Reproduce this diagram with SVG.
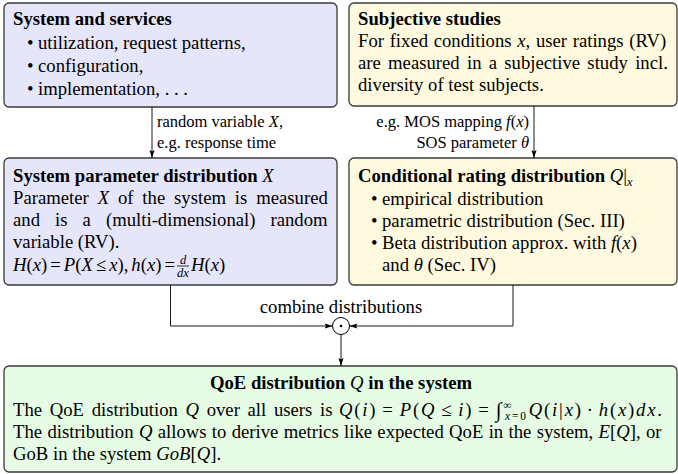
<svg xmlns="http://www.w3.org/2000/svg" width="678" height="474" viewBox="0 0 678 474">
  <style>
    .box { stroke: #3a3a3a; stroke-width: 1.3; }
    .blue { fill: #e6e6fa; }
    .yellow { fill: #fffadf; }
    .green { fill: #e6fce4; }
    .t { font-family: "Liberation Serif", "DejaVu Serif", serif; font-size: 18.7px; fill: #000; }
    .b { font-weight: bold; }
    .i { font-style: italic; }
    .lbl { font-size: 16.5px; }
    .sm { font-size: 11.5px; }
    .fr { font-size: 12.5px; }
    .int { font-size: 21px; }
    .conn { stroke: #000; stroke-width: 0.9; fill: none; }
  </style>
  <defs>
    <marker id="arrow" viewBox="0 0 8 6" refX="8" refY="3" markerWidth="8" markerHeight="6" markerUnits="userSpaceOnUse" orient="auto">
      <path d="M0,0.4 L8,3 L0,5.6 L1.6,3 z" fill="#000"/>
    </marker>
  </defs>

  <rect width="678" height="474" fill="#fff"/>

  <!-- system and services -->
  <g id="system-services">
    <rect class="box blue" x="4" y="3" width="333" height="104" rx="5"/>
    <text class="t b" x="13" y="25">System and services</text>
    <text class="t" x="27" y="49">•</text>
    <text class="t" x="38" y="49">utilization, request patterns,</text>
    <text class="t" x="27" y="72">•</text>
    <text class="t" x="38" y="72">configuration,</text>
    <text class="t" x="27" y="95">•</text>
    <text class="t" x="38" y="95">implementation, . . .</text>
  </g>

  <!-- subjective studies -->
  <g id="subjective-studies">
    <rect class="box yellow" x="349" y="3" width="328" height="103" rx="5"/>
    <text class="t b" x="358" y="25">Subjective studies</text>
    <text class="t" x="358" y="47" word-spacing="1">For fixed conditions <tspan class="i">x</tspan>, user ratings (RV)</text>
    <text class="t" x="358" y="69" word-spacing="2.6">are measured in a subjective study incl.</text>
    <text class="t" x="358" y="91">diversity of test subjects.</text>
  </g>

  <!-- system parameter distribution -->
  <g id="system-parameter">
    <rect class="box blue" x="4" y="158" width="333" height="127" rx="5"/>
    <text class="t" x="13" y="182"><tspan class="b">System parameter distribution </tspan><tspan class="i">X</tspan></text>
    <text class="t" x="13" y="204" word-spacing="4.2">Parameter <tspan class="i">X</tspan> of the system is measured</text>
    <text class="t" x="13" y="226" word-spacing="10.4">and is a (multi-dimensional) random</text>
    <text class="t" x="13" y="248">variable (RV).</text>
    <text class="t" x="13" y="271"><tspan class="i">H</tspan>(<tspan class="i">x</tspan>)<tspan dx="3">=</tspan><tspan class="i" dx="3">P</tspan>(<tspan class="i">X</tspan><tspan dx="3">≤</tspan><tspan class="i" dx="3">x</tspan>),<tspan class="i" dx="3">h</tspan>(<tspan class="i">x</tspan>)<tspan dx="3">=</tspan></text>
    <text class="t fr i" x="183" y="264" text-anchor="middle">d</text>
    <line x1="177" y1="266" x2="189" y2="266" stroke="#000" stroke-width="0.8"/>
    <text class="t fr i" x="183" y="277" text-anchor="middle">dx</text>
    <text class="t" x="191" y="271"><tspan class="i">H</tspan>(<tspan class="i">x</tspan>)</text>
  </g>

  <!-- conditional rating distribution -->
  <g id="conditional-rating">
    <rect class="box yellow" x="349" y="158" width="328" height="127" rx="5"/>
    <text class="t" x="358" y="182"><tspan class="b">Conditional rating distribution </tspan><tspan class="i">Q</tspan>|<tspan class="fr i" dy="4">x</tspan></text>
    <text class="t" x="371" y="205">•</text>
    <text class="t" x="382" y="205">empirical distribution</text>
    <text class="t" x="371" y="227">•</text>
    <text class="t" x="382" y="227">parametric distribution (Sec. III)</text>
    <text class="t" x="371" y="249">•</text>
    <text class="t" x="382" y="249">Beta distribution approx. with <tspan class="i">f</tspan>(<tspan class="i">x</tspan>)</text>
    <text class="t" x="382" y="271">and <tspan class="i">θ</tspan> (Sec. IV)</text>
  </g>

  <!-- combination of both distributions -->
  <g id="combine">
    <text class="t" x="341" y="313" text-anchor="middle">combine distributions</text>
    <circle cx="341" cy="326" r="8.5" fill="none" stroke="#000" stroke-width="1"/>
    <circle cx="341" cy="326" r="1.3" fill="#000"/>
  </g>

  <!-- QoE distribution -->
  <g id="qoe-distribution">
    <rect class="box green" x="4" y="366" width="673" height="106" rx="5"/>
    <text class="t" x="341" y="389" text-anchor="middle"><tspan class="b">QoE distribution </tspan><tspan class="i">Q</tspan><tspan class="b"> in the system</tspan></text>
    <text class="t" x="13" y="416" word-spacing="3">The QoE distribution <tspan class="i">Q</tspan> over all users is</text>
    <text class="t" x="339" y="416" textLength="323" lengthAdjust="spacing"><tspan class="i">Q</tspan>(<tspan class="i">i</tspan>)<tspan dx="5">=</tspan><tspan class="i" dx="5">P</tspan>(<tspan class="i">Q</tspan><tspan dx="5">≤</tspan><tspan class="i" dx="5">i</tspan>)<tspan dx="5">=</tspan><tspan class="int" dx="5" dy="1">∫</tspan><tspan class="sm" dy="-8.5">∞</tspan><tspan class="sm i" dx="-8.2" dy="11.5">x</tspan><tspan class="sm">=0</tspan><tspan class="i" dx="1" dy="-4">Q</tspan>(<tspan class="i">i</tspan>|<tspan class="i">x</tspan>)<tspan dx="4">·</tspan><tspan class="i" dx="4">h</tspan>(<tspan class="i">x</tspan>)<tspan class="i">dx</tspan>.</text>
    <text class="t" x="13" y="438" word-spacing="0.65">The distribution <tspan class="i">Q</tspan> allows to derive metrics like expected QoE in the system, <tspan class="i">E</tspan>[<tspan class="i">Q</tspan>], or</text>
    <text class="t" x="13" y="460">GoB in the system <tspan class="i">GoB</tspan>[<tspan class="i">Q</tspan>].</text>
  </g>

  <!-- connectors and their labels -->
  <g id="connectors">
    <path class="conn" d="M152,107 V158" marker-end="url(#arrow)"/>
    <path class="conn" d="M534,106 V158" marker-end="url(#arrow)"/>
    <path class="conn" d="M170.5,285 V326 H332.5" marker-end="url(#arrow)"/>
    <path class="conn" d="M513,285 V326 H349.5" marker-end="url(#arrow)"/>
    <path class="conn" d="M341,334.5 V366" marker-end="url(#arrow)"/>
    <text class="t lbl" x="157" y="127">random variable <tspan class="i">X</tspan>,</text>
    <text class="t lbl" x="157" y="148">e.g. response time</text>
    <text class="t lbl" x="529" y="127" text-anchor="end">e.g. MOS mapping <tspan class="i">f</tspan>(<tspan class="i">x</tspan>)</text>
    <text class="t lbl" x="529" y="148" text-anchor="end">SOS parameter <tspan class="i">θ</tspan></text>
  </g>
</svg>
